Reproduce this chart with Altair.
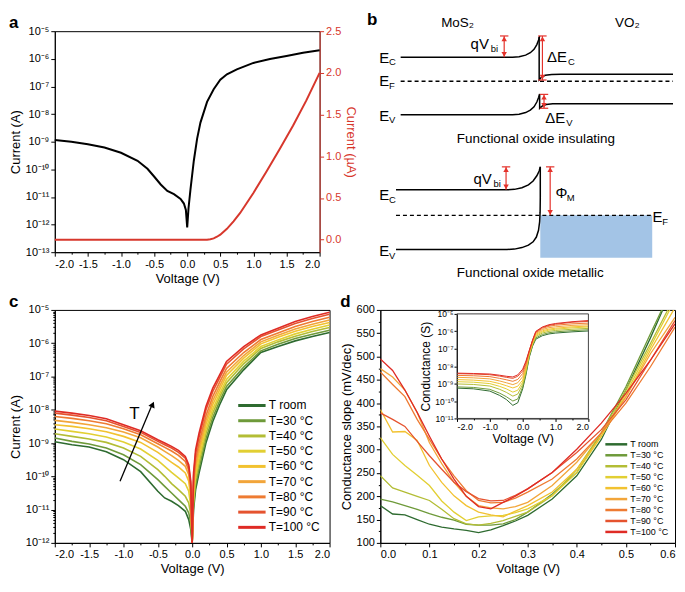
import altair as alt
import pandas as pd

FONT = "Liberation Sans"
SUP = str.maketrans("-0123456789", "⁻⁰¹²³⁴⁵⁶⁷⁸⁹")
AX_RED = "#d7372c"
ARROW_RED = "#e4322b"
BLUE_FILL = "#a3c4e6"

T_LABELS = ["T room", "T=30 °C", "T=40 °C", "T=50 °C", "T=60 °C",
            "T=70 °C", "T=80 °C", "T=90 °C", "T=100 °C"]
T_COLORS = ["#2e6b30", "#6e9a3a", "#b3bd35", "#e2cf33", "#f2c230",
            "#f2a53a", "#ee7b32", "#e5532f", "#df2b25"]

# ---------------- panel a ----------------
a_volt = [-2.0, -1.75, -1.5, -1.25, -1.0, -0.75, -0.6, -0.5, -0.4, -0.3, -0.2, -0.1,
          -0.05, -0.02, 0.0, 0.02, 0.05, 0.1, 0.15, 0.2, 0.3, 0.4, 0.5, 0.6, 0.75,
          1.0, 1.25, 1.5, 1.75, 2.0]
a_log_current = [-8.94, -9.0, -9.09, -9.21, -9.4, -9.69, -9.98, -10.26, -10.55, -10.78,
                 -10.9, -11.07, -11.24, -11.47, -12.1, -11.41, -10.72, -9.69, -8.89, -8.31,
                 -7.56, -7.1, -6.76, -6.56, -6.38, -6.15, -6.01, -5.9, -5.78, -5.69]
a_lin_volt = [-2.0, 0.3, 0.35, 0.4, 0.45, 0.5, 0.6, 0.7, 0.8, 0.9, 1.0, 1.2, 1.4, 1.6, 1.8, 2.0]
a_lin_current_uA = [0.0, 0.0, 0.005, 0.015, 0.035, 0.06, 0.13, 0.22, 0.32, 0.44, 0.56,
                    0.82, 1.09, 1.37, 1.67, 2.0]
a_log_exps = [-13, -12, -11, -10, -9, -8, -7, -6, -5]
a_right_ticks = [0.0, 0.5, 1.0, 1.5, 2.0, 2.5]
a_right_domain = [-0.15, 2.5]
v_ticks_quarter = [-2.0, -1.75, -1.5, -1.25, -1.0, -0.75, -0.5, -0.25, 0.0,
                   0.25, 0.5, 0.75, 1.0, 1.25, 1.5, 1.75, 2.0]
v_tick_labels = ["-2.0", "", "-1.5", "", "-1.0", "", "-0.5", "", "0.0",
                 "", "0.5", "", "1.0", "", "1.5", "", "2.0"]

# ---------------- panel b (band diagram, diagram units) ----------------
b_lines = {
    "ec_top": ([393, 513, 520, 527, 532, 536, 539, 541, 542],
               [48.3, 48.3, 47.8, 46, 43.5, 40, 35, 30, 26]),
    "ec_vo2": ([541.5, 541.5, 544, 548, 555, 565, 685],
               [27, 72, 69, 67, 66.2, 66, 66]),
    "ev_top": ([393, 513, 520, 527, 532, 536, 539, 541, 542],
               [108.3, 108.3, 107.8, 106, 103.5, 100, 95, 90, 86.5]),
    "ev_vo2": ([542, 542, 545, 549, 556, 566, 685],
               [87, 101.5, 99, 97.6, 96.9, 96.7, 96.7]),
    "ec_bot": ([388, 507, 515, 523, 530, 535, 539, 541.5, 542.7],
               [186.7, 186.7, 186.2, 184.5, 181.5, 177.5, 172, 167, 162.7]),
    "ev_bot": ([388, 507, 515, 523, 530, 535, 538.5, 540.8, 542, 542.5, 542.7, 542.7, 542.7],
               [249, 249, 248.6, 247, 244.5, 241, 236, 229, 220, 210, 195, 180, 162.7]),
}
b_dashed = {"ef_top": ([393, 685], [73.3, 73.3]), "ef_bot": ([388, 663], [213.3, 213.3])}
b_metal = {"x": [542.7], "x2": [662.7], "y": [213.3], "y2": [257.7]}
# red double arrows: x, top, bottom, cap at top?, cap at bottom?
b_arrows_x = [504, 545, 546.7, 506, 553.3]
b_arrows_top = [26, 26, 87, 162.7, 162.7]
b_arrows_bot = [48.3, 72, 101.5, 186.7, 213.3]
b_arrows_captop = [True, True, True, True, True]
b_arrows_capbot = [False, True, True, False, False]
b_main_text = ["E", "E", "E", "qV", "ΔE", "ΔE", "E", "E", "qV", "Φ", "E"]
b_main_x = [370, 370, 370, 468, 550, 548, 370, 370, 471, 559, 663]
b_main_y = [48.7, 73.5, 109.5, 34, 48, 111.5, 192.5, 251, 175.5, 190, 215]
b_sub_text = ["C", "F", "V", "bi", "C", "V", "C", "V", "bi", "M", "F"]
b_sub_x = [380.5, 380.5, 380.5, 489.5, 572.5, 570.5, 380.5, 380.5, 492.5, 571, 673.5]
b_sub_y = [53.5, 78.5, 114, 40, 53, 116.5, 197, 255.5, 181, 195, 220]
b_cap_text = ["MoS₂", "VO₂", "Functional oxide insulating", "Functional oxide metallic"]
b_cap_x = [454, 636, 538, 532]
b_cap_y = [12, 12, 134, 274]
b_label_xy = [357, 9]
B_XDOM = [352, 685]
B_YDOM = [21, 283]

# ---------------- panel c ----------------
c_volt = [-2.0, -1.75, -1.5, -1.25, -1.0, -0.75, -0.5, -0.4, -0.3, -0.2, -0.1, -0.05, -0.02,
          0.0, 0.02, 0.05, 0.1, 0.2, 0.3, 0.4, 0.5, 0.75, 1.0, 1.25, 1.5, 1.75, 2.0]
c_log_current = {
    "T room": [-8.96, -9.05, -9.12, -9.26, -9.5, -9.86, -10.45, -10.65, -10.75, -10.88, -11.05, -11.3, -11.6,
               -12.0, -11.0, -10.4, -9.9, -9.0, -8.35, -7.85, -7.4, -6.8, -6.28, -6.1, -5.93, -5.8, -5.68],
    "T=30 °C": [-8.85, -8.95, -9.03, -9.15, -9.35, -9.65, -10.1, -10.3, -10.5, -10.7, -10.9, -11.1, -11.4,
                -12.0, -10.87, -10.26, -9.76, -8.87, -8.23, -7.74, -7.3, -6.72, -6.23, -6.03, -5.86, -5.73, -5.61],
    "T=40 °C": [-8.72, -8.8, -8.88, -8.98, -9.15, -9.4, -9.8, -10.0, -10.22, -10.4, -10.6, -10.8, -11.15,
                -12.0, -10.72, -10.1, -9.6, -8.72, -8.1, -7.62, -7.19, -6.62, -6.16, -5.96, -5.79, -5.65, -5.53],
    "T=50 °C": [-8.58, -8.65, -8.72, -8.82, -8.97, -9.18, -9.52, -9.7, -9.88, -10.05, -10.22, -10.45, -10.9,
                -12.0, -10.59, -9.96, -9.46, -8.59, -7.98, -7.52, -7.09, -6.54, -6.1, -5.9, -5.72, -5.58, -5.45],
    "T=60 °C": [-8.45, -8.5, -8.57, -8.66, -8.8, -8.98, -9.28, -9.43, -9.58, -9.72, -9.9, -10.15, -10.65,
                -12.0, -10.45, -9.8, -9.3, -8.45, -7.85, -7.4, -6.97, -6.45, -6.02, -5.82, -5.64, -5.5, -5.38],
    "T=70 °C": [-8.32, -8.38, -8.45, -8.54, -8.67, -8.84, -9.12, -9.25, -9.38, -9.52, -9.7, -9.95, -10.5,
                -12.0, -10.32, -9.66, -9.16, -8.32, -7.73, -7.29, -6.87, -6.37, -5.96, -5.76, -5.57, -5.43, -5.3],
    "T=80 °C": [-8.2, -8.26, -8.33, -8.42, -8.57, -8.75, -9.02, -9.13, -9.24, -9.37, -9.55, -9.82, -10.35,
                -12.0, -10.18, -9.5, -9.0, -8.18, -7.6, -7.17, -6.76, -6.28, -5.89, -5.69, -5.5, -5.35, -5.22],
    "T=90 °C": [-8.1, -8.16, -8.23, -8.33, -8.5, -8.68, -8.95, -9.05, -9.15, -9.28, -9.45, -9.72, -10.25,
                -12.0, -10.01, -9.32, -8.82, -8.01, -7.45, -7.04, -6.63, -6.17, -5.8, -5.6, -5.41, -5.26, -5.13],
    "T=100 °C": [-8.04, -8.1, -8.17, -8.27, -8.45, -8.63, -8.9, -9.0, -9.1, -9.22, -9.4, -9.65, -10.15,
                 -12.0, -9.9, -9.2, -8.7, -7.9, -7.35, -6.95, -6.55, -6.1, -5.75, -5.55, -5.35, -5.2, -5.07],
}
c_log_exps = [-12, -11, -10, -9, -8, -7, -6, -5]
c_arrow_volt = [-1.05, -0.585]
c_arrow_log = [-10.15, -7.86]
c_arrow_head_volt = [-0.575]
c_arrow_head_log = [-7.84]
c_T_volt = [-0.84]
c_T_log = [-8.12]

# ---------------- panel d ----------------
d_volt = [0.0, 0.025, 0.05, 0.075, 0.1, 0.125, 0.15, 0.175, 0.2, 0.225, 0.25, 0.275,
          0.3, 0.35, 0.4, 0.45, 0.5, 0.55, 0.6]
d_slope = {
    "T room": [180, 162, 160, 150, 140, 134, 130, 127, 122, 128, 137, 147, 159, 194, 244, 322, 428, 540, 660],
    "T=30 °C": [194, 188, 180, 172, 163, 155, 149, 140, 138, 138, 141, 150, 166, 205, 251, 336, 435, 549, 660],
    "T=40 °C": [244, 218, 209, 200, 191, 172, 152, 141, 138, 142, 148, 157, 166, 201, 258, 336, 428, 528, 630],
    "T=50 °C": [326, 290, 266, 245, 223, 190, 166, 148, 156, 158, 159, 165, 173, 201, 251, 329, 421, 521, 622],
    "T=60 °C": [386, 338, 339, 320, 266, 230, 201, 180, 166, 160, 156, 168, 180, 209, 258, 329, 414, 514, 605],
    "T=70 °C": [474, 456, 428, 380, 315, 270, 230, 200, 180, 175, 173, 178, 187, 223, 273, 336, 414, 506, 584],
    "T=80 °C": [467, 440, 414, 365, 322, 280, 244, 212, 191, 186, 187, 196, 209, 237, 280, 336, 400, 478, 563],
    "T=90 °C": [379, 365, 350, 318, 287, 258, 230, 210, 195, 190, 191, 202, 216, 251, 294, 343, 407, 492, 577],
    "T=100 °C": [495, 470, 428, 380, 329, 280, 237, 200, 178, 173, 187, 200, 216, 251, 301, 357, 421, 492, 570],
}
d_xticks = [0.0, 0.05, 0.1, 0.15, 0.2, 0.25, 0.3, 0.35, 0.4, 0.45, 0.5, 0.55, 0.6]
d_xtick_labels = ["0.0", "", "0.1", "", "0.2", "", "0.3", "", "0.4", "", "0.5", "", "0.6"]
d_yticks = [100, 125, 150, 175, 200, 225, 250, 275, 300, 325, 350, 375, 400, 425, 450,
            475, 500, 525, 550, 575, 600]
d_ytick_labels = ["100", "", "150", "", "200", "", "250", "", "300", "", "350", "", "400", "",
                  "450", "", "500", "", "550", "", "600"]

inset_volt = [-2.0, -1.5, -1.0, -0.7, -0.5, -0.3, -0.15, 0.0, 0.1, 0.2, 0.3, 0.4, 0.6, 0.8, 1.0, 1.5, 2.0]
inset_log_G = {
    "T room": [-9.26, -9.3, -9.43, -9.68, -9.91, -10.25, -10.1, -9.3, -8.5, -7.5, -6.85, -6.45, -6.25, -6.15, -6.1, -6.03, -5.98],
    "T=30 °C": [-9.19, -9.22, -9.33, -9.55, -9.75, -10.0, -9.88, -9.2, -8.42, -7.43, -6.8, -6.38, -6.18, -6.08, -6.03, -5.96, -5.91],
    "T=40 °C": [-9.02, -9.05, -9.14, -9.33, -9.5, -9.72, -9.6, -9.05, -8.3, -7.36, -6.74, -6.3, -6.1, -6.0, -5.95, -5.88, -5.83],
    "T=50 °C": [-8.89, -8.92, -9.0, -9.16, -9.3, -9.49, -9.38, -8.92, -8.2, -7.3, -6.7, -6.24, -6.03, -5.93, -5.88, -5.8, -5.75],
    "T=60 °C": [-8.77, -8.8, -8.87, -9.0, -9.12, -9.25, -9.15, -8.8, -8.1, -7.25, -6.65, -6.18, -5.97, -5.87, -5.82, -5.74, -5.7],
    "T=70 °C": [-8.64, -8.67, -8.73, -8.85, -8.95, -9.06, -8.95, -8.6, -8.0, -7.2, -6.6, -6.12, -5.9, -5.79, -5.74, -5.66, -5.62],
    "T=80 °C": [-8.53, -8.55, -8.6, -8.7, -8.78, -8.87, -8.76, -8.42, -7.88, -7.15, -6.55, -6.07, -5.83, -5.71, -5.65, -5.57, -5.53],
    "T=90 °C": [-8.43, -8.45, -8.49, -8.57, -8.64, -8.7, -8.58, -8.27, -7.78, -7.12, -6.52, -6.03, -5.78, -5.66, -5.59, -5.48, -5.43],
    "T=100 °C": [-8.4, -8.42, -8.45, -8.52, -8.58, -8.62, -8.5, -8.17, -7.7, -7.1, -6.5, -6.0, -5.75, -5.62, -5.55, -5.45, -5.38],
}
inset_log_exps = [-11, -10, -9, -8, -7, -6, -5]
inset_xticks = [-2.0, -1.5, -1.0, -0.5, 0.0, 0.5, 1.0, 1.5, 2.0]
inset_xtick_labels = ["-2.0", "", "-1.0", "", "0.0", "", "1.0", "", "2.0"]

# ---------------- layout sizes ----------------
WA, HA = 266, 222
WB, HB = 312, 252
WC, HC = 276, 234
WD, HD = 296, 234
INSET_X_RANGE = [77, 209]
INSET_Y_RANGE = [109, 4]
LEGEND_LINE = "M-2.5,0L2.5,0"


# ---------------- helpers ----------------
def sel_expr(values, labels):
    expr = "''"
    for v, l in zip(values, labels):
        if l:
            expr = f"abs(datum.value - ({v})) < 1e-6 ? '{l}' : {expr}"
    return expr


def major_test(values, labels):
    return " || ".join(f"abs(datum.value - ({v})) < 1e-6" for v, l in zip(values, labels) if l)


def lin_axis(values, labels, major=4, minor=2, **kw):
    return alt.Axis(values=values, labelExpr=sel_expr(values, labels),
                    tickSize={"condition": {"test": major_test(values, labels), "value": major},
                              "value": minor}, **kw)


def log_axis(exps, major=4, minor=2, **kw):
    vals = []
    for e in exps:
        vals.append(10.0 ** e)
        if e != exps[-1]:
            vals.extend([m * 10.0 ** e for m in range(2, 10)])
    labels = ["10" + str(e).translate(SUP) for e in exps]
    arr = "[" + ",".join(f"'{l}'" for l in labels) + "]"
    isdec = "abs(log(datum.value)/LN10 - round(log(datum.value)/LN10)) < 0.001"
    expr = f"{isdec} ? {arr}[round(log(datum.value)/LN10) - ({exps[0]})] : ''"
    return alt.Axis(values=vals, labelExpr=expr,
                    tickSize={"condition": {"test": isdec, "value": major}, "value": minor}, **kw)


def panel_title(t):
    return alt.TitleParams(t, anchor="start", frame="bounds", fontSize=17, fontWeight="bold",
                           offset=-7, font=FONT)


def long_frame(xname, xs, yname, series, logval=True):
    rows = []
    for name in T_LABELS:
        for x, y in zip(xs, series[name]):
            rows.append({xname: x, yname: (10.0 ** y if logval else y), "T": name})
    return pd.DataFrame(rows)


color_scale = alt.Scale(domain=T_LABELS, range=T_COLORS)

# ---------------- panel a ----------------
df_a = pd.DataFrame({"V": a_volt, "I": [10.0 ** v for v in a_log_current]})
df_ar = pd.DataFrame({"V": a_lin_volt, "I": a_lin_current_uA})
xa = alt.X("V:Q", scale=alt.Scale(domain=[-2, 2], nice=False, zero=False),
           axis=lin_axis(v_ticks_quarter, v_tick_labels, title="Voltage (V)"))
a_black = alt.Chart(df_a).mark_line(color="black", strokeWidth=2).encode(
    x=xa,
    y=alt.Y("I:Q", scale=alt.Scale(type="log", domain=[1e-13, 1e-5], nice=False),
            axis=log_axis(a_log_exps, minor=0, title="Current (A)")))
a_red = alt.Chart(df_ar).mark_line(color=AX_RED, strokeWidth=2).encode(
    x=xa,
    y=alt.Y("I:Q", scale=alt.Scale(domain=a_right_domain, nice=False, zero=False),
            axis=alt.Axis(orient="right", values=a_right_ticks, format=".1f", title="Current (µA)",
                          labelColor=AX_RED, titleColor=AX_RED, domainColor=AX_RED,
                          tickColor=AX_RED, tickSize=4)))
panel_a = alt.layer(a_black, a_red).resolve_scale(y="independent").properties(
    width=WA, height=HA, title=panel_title("a"))

# ---------------- panel b ----------------
bx = alt.X("x:Q", scale=alt.Scale(domain=B_XDOM, nice=False, zero=False), axis=None)
by = alt.Y("y:Q", scale=alt.Scale(domain=B_YDOM, nice=False, zero=False, reverse=True), axis=None)

rows = []
for seg, (xs, ys) in b_lines.items():
    for i, (x, y) in enumerate(zip(xs, ys)):
        rows.append({"seg": seg, "ord": i, "x": x, "y": y})
df_bl = pd.DataFrame(rows)
rows = []
for seg, (xs, ys) in b_dashed.items():
    for i, (x, y) in enumerate(zip(xs, ys)):
        rows.append({"seg": seg, "ord": i, "x": x, "y": y})
df_bd = pd.DataFrame(rows)

b_solid = alt.Chart(df_bl).mark_line(color="black", strokeWidth=1.5).encode(
    x=bx, y=by, detail="seg:N", order="ord:Q")
b_dash = alt.Chart(df_bd).mark_line(color="black", strokeWidth=1.3, strokeDash=[4, 3]).encode(
    x=bx, y=by, detail="seg:N", order="ord:Q")
b_rect = alt.Chart(pd.DataFrame(b_metal)).mark_rect(color=BLUE_FILL).encode(
    x=bx, x2="x2:Q", y=by, y2="y2:Q")

df_shaft = pd.DataFrame({"x": b_arrows_x, "y": b_arrows_top, "y2": b_arrows_bot})
b_shaft = alt.Chart(df_shaft).mark_rule(color=ARROW_RED, strokeWidth=1.2).encode(x=bx, y=by, y2="y2:Q")
cap_rows = []
for x, t, b_, ct, cb in zip(b_arrows_x, b_arrows_top, b_arrows_bot, b_arrows_captop, b_arrows_capbot):
    if ct:
        cap_rows.append({"x": x - 4.5, "x2": x + 4.5, "y": t})
    if cb:
        cap_rows.append({"x": x - 4.5, "x2": x + 4.5, "y": b_})
b_caps = alt.Chart(pd.DataFrame(cap_rows)).mark_rule(color=ARROW_RED, strokeWidth=1.2).encode(
    x=bx, x2="x2:Q", y=by)
df_up = pd.DataFrame({"x": b_arrows_x, "y": [t + 3 for t in b_arrows_top]})
df_dn = pd.DataFrame({"x": b_arrows_x, "y": [b_ - 3 for b_ in b_arrows_bot]})
b_head_up = alt.Chart(df_up).mark_point(shape="triangle-up", filled=True, size=30, color=ARROW_RED,
                                        opacity=1).encode(x=bx, y=by)
b_head_dn = alt.Chart(df_dn).mark_point(shape="triangle-down", filled=True, size=30, color=ARROW_RED,
                                        opacity=1).encode(x=bx, y=by)
b_t_main = alt.Chart(pd.DataFrame({"x": b_main_x, "y": b_main_y, "t": b_main_text})).mark_text(
    align="left", baseline="middle", fontSize=15, font=FONT, color="black").encode(x=bx, y=by, text="t:N")
b_t_sub = alt.Chart(pd.DataFrame({"x": b_sub_x, "y": b_sub_y, "t": b_sub_text})).mark_text(
    align="left", baseline="middle", fontSize=9.5, font=FONT, color="black").encode(x=bx, y=by, text="t:N")
b_t_cap = alt.Chart(pd.DataFrame({"x": b_cap_x, "y": b_cap_y, "t": b_cap_text})).mark_text(
    align="center", baseline="middle", fontSize=13.5, font=FONT, color="black").encode(x=bx, y=by, text="t:N")
b_t_label = alt.Chart(pd.DataFrame({"x": [b_label_xy[0]], "y": [b_label_xy[1]], "t": ["b"]})).mark_text(
    align="left", baseline="middle", fontSize=17, fontWeight="bold", font=FONT, color="black").encode(
    x=bx, y=by, text="t:N")
panel_b = alt.layer(b_rect, b_solid, b_dash, b_shaft, b_caps, b_head_up, b_head_dn,
                    b_t_main, b_t_sub, b_t_cap, b_t_label).properties(
    width=WB, height=HB, view=alt.ViewBackground(stroke="transparent"))

# ---------------- panel c ----------------
df_c = long_frame("V", c_volt, "I", c_log_current)
xc = alt.X("V:Q", scale=alt.Scale(domain=[-2, 2], nice=False, zero=False),
           axis=lin_axis(v_ticks_quarter, v_tick_labels, title="Voltage (V)"))
yc = alt.Y("I:Q", scale=alt.Scale(type="log", domain=[1e-12, 1e-5], nice=False),
           axis=log_axis(c_log_exps, title="Current (A)"))
c_lines = alt.Chart(df_c).mark_line(strokeWidth=1.6).encode(
    x=xc, y=yc,
    color=alt.Color("T:N", scale=color_scale,
                    legend=alt.Legend(title=None, orient="bottom-right", offset=9, symbolType=LEGEND_LINE,
                                      symbolStrokeWidth=3, symbolSize=121, rowPadding=2.3,
                                      labelFontSize=12, labelOffset=10, labelFont=FONT)))
df_arrow = pd.DataFrame({"V": c_arrow_volt, "I": [10.0 ** v for v in c_arrow_log]})
c_arrow = alt.Chart(df_arrow).mark_line(color="black", strokeWidth=1.3).encode(x=xc, y=yc)
c_head = alt.Chart(pd.DataFrame({"V": c_arrow_head_volt, "I": [10.0 ** v for v in c_arrow_head_log]})).mark_point(
    shape="triangle-up", filled=True, size=45, angle=24, color="black", opacity=1).encode(x=xc, y=yc)
c_T = alt.Chart(pd.DataFrame({"V": c_T_volt, "I": [10.0 ** v for v in c_T_log], "t": ["T"]})).mark_text(
    fontSize=17, font=FONT, color="black").encode(x=xc, y=yc, text="t:N")
panel_c = alt.layer(c_lines, c_arrow, c_head, c_T).properties(width=WC, height=HC, title=panel_title("c"))

# ---------------- panel d ----------------
df_d = long_frame("V", d_volt, "S", d_slope, logval=False)
d_legend = alt.Legend(title=None, orient="bottom-right", offset=6, symbolType=LEGEND_LINE,
                      symbolStrokeWidth=2.5, symbolSize=77, rowPadding=0,
                      labelFontSize=9, labelOffset=8, labelFont=FONT)
d_main = alt.Chart(df_d).mark_line(strokeWidth=1.3, clip=True).encode(
    x=alt.X("V:Q", scale=alt.Scale(domain=[0, 0.6], nice=False, zero=False),
            axis=lin_axis(d_xticks, d_xtick_labels, title="Voltage (V)")),
    y=alt.Y("S:Q", scale=alt.Scale(domain=[100, 600], nice=False, zero=False),
            axis=lin_axis(d_yticks, d_ytick_labels, title="Conductance slope (mV/dec)")),
    color=alt.Color("T:N", scale=color_scale, legend=d_legend))

df_in = long_frame("Vi", inset_volt, "G", inset_log_G)
in_xaxis = lin_axis(inset_xticks, inset_xtick_labels, major=3, minor=1.5, orient="bottom",
                    offset=-(HD - INSET_Y_RANGE[0]), title="Voltage (V)", labelFontSize=9,
                    titleFontSize=12.5, titlePadding=1, labelPadding=1)
in_yaxis = log_axis(inset_log_exps, major=3, minor=0, orient="left", offset=-INSET_X_RANGE[0],
                    title="Conductance (S)", labelFontSize=8.5, titleFontSize=12, titlePadding=2,
                    labelPadding=1)
in_xscale = alt.Scale(domain=[-2, 2], range=INSET_X_RANGE, nice=False, zero=False)
in_yscale = alt.Scale(type="log", domain=[1e-11, 1e-5], range=INSET_Y_RANGE, nice=False)
d_inset = alt.Chart(df_in).mark_line(strokeWidth=1).encode(
    x=alt.X("Vi:Q", scale=in_xscale, axis=in_xaxis),
    y=alt.Y("G:Q", scale=in_yscale, axis=in_yaxis),
    color=alt.Color("T:N", scale=color_scale, legend=d_legend))
df_frame = pd.DataFrame({"Vi": [-2.0], "Vi2": [2.0], "G": [1e-11], "G2": [1e-5]})
d_frame = alt.Chart(df_frame).mark_rect(fillOpacity=0, stroke="#444444", strokeWidth=1).encode(
    x=alt.X("Vi:Q", scale=in_xscale, axis=in_xaxis), x2="Vi2:Q",
    y=alt.Y("G:Q", scale=in_yscale, axis=in_yaxis), y2="G2:Q")
panel_d = alt.layer(d_main, alt.layer(d_inset, d_frame)).resolve_scale(
    x="independent", y="independent").properties(width=WD, height=HD, title=panel_title("d"))

# ---------------- compose ----------------
row1 = alt.hconcat(panel_a, panel_b, spacing=4)
row2 = alt.hconcat(panel_c, panel_d, spacing=6).resolve_scale(color="independent").resolve_legend(
    color="independent")
chart = alt.vconcat(row1, row2, spacing=6).resolve_scale(color="independent").resolve_legend(
    color="independent").properties(padding=0).configure_view(
    stroke="black", strokeWidth=1
).configure_axis(
    labelFont=FONT, titleFont=FONT, labelFontSize=11, titleFontSize=13, titleFontWeight="normal",
    labelColor="black", titleColor="black", domainColor="black", tickColor="black", grid=False,
    labelPadding=2, titlePadding=3, tickSize=4
).configure_text(font=FONT).configure_legend(labelFont=FONT)

chart.save("out.html", embed_options={"renderer": "svg", "actions": False})
